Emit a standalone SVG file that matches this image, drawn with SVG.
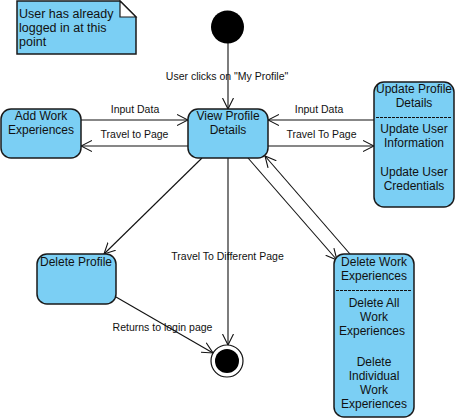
<svg xmlns="http://www.w3.org/2000/svg" width="456" height="419" viewBox="0 0 456 419">
<defs>
<style>
.node{fill:#7bcff4;stroke:#1a1a1a;stroke-width:1.5}
.t{font-family:"Liberation Sans",Arial,sans-serif;font-size:12px;fill:#111;text-anchor:middle}
.lbl{font-family:"Liberation Sans",Arial,sans-serif;font-size:10.5px;fill:#111;text-anchor:middle}
.c{stroke:#111;stroke-width:1.1;fill:none}
.dash{stroke:#111;stroke-width:1;stroke-dasharray:3,1}
</style>
<marker id="arr" viewBox="0 0 12 12" refX="11" refY="6" markerWidth="12" markerHeight="12" markerUnits="userSpaceOnUse" orient="auto">
<path d="M0,0.5 L11,6 L0,11.5" fill="none" stroke="#111" stroke-width="1.1"/>
</marker>
</defs>
<rect width="456" height="419" fill="#fff"/>

<g id="note">
<polygon points="17,1 120,1 136,17 136,54 17,54" class="node"/>
<polygon points="120,1 120,17 136,17" fill="#fff" stroke="#1a1a1a" stroke-width="1.2"/>
<text x="19" y="18" font-family="Liberation Sans, Arial, sans-serif" font-size="12.5" fill="#111">User has already</text>
<text x="19" y="32" font-family="Liberation Sans, Arial, sans-serif" font-size="12.5" fill="#111">logged in at this</text>
<text x="19" y="46" font-family="Liberation Sans, Arial, sans-serif" font-size="12.5" fill="#111">point</text>
</g>

<g id="connectors">
<line x1="228" y1="43" x2="228" y2="109" class="c" marker-end="url(#arr)"/>
<line x1="81" y1="120" x2="188" y2="120" class="c" marker-end="url(#arr)"/>
<line x1="188" y1="146" x2="81" y2="146" class="c" marker-end="url(#arr)"/>
<line x1="374" y1="120" x2="268" y2="120" class="c" marker-end="url(#arr)"/>
<line x1="268" y1="146" x2="374" y2="146" class="c" marker-end="url(#arr)"/>
<line x1="202" y1="158" x2="104" y2="254" class="c" marker-end="url(#arr)"/>
<line x1="228" y1="158" x2="228" y2="345" class="c" marker-end="url(#arr)"/>
<line x1="248" y1="158" x2="337" y2="260" class="c" marker-end="url(#arr)"/>
<line x1="350" y1="254" x2="265" y2="156" class="c" marker-end="url(#arr)"/>
<line x1="116" y1="297" x2="213" y2="353" class="c" marker-end="url(#arr)"/>
<text x="227" y="80" class="lbl">User clicks on "My Profile"</text>
<text x="135" y="113" class="lbl">Input Data</text>
<text x="134.5" y="138" class="lbl">Travel to Page</text>
<text x="319" y="113" class="lbl">Input Data</text>
<text x="321.5" y="138" class="lbl">Travel To Page</text>
<text x="227.5" y="260" class="lbl">Travel To Different Page</text>
<text x="162.5" y="331" class="lbl">Returns to login page</text>
</g>

<g id="start">
<circle cx="227.5" cy="27" r="16.5" fill="#000"/>
</g>

<g id="final">
<circle cx="227" cy="361" r="16" fill="#fff" stroke="#111" stroke-width="1.2"/>
<circle cx="227" cy="361" r="12" fill="#000"/>
</g>

<g id="view-profile">
<rect x="188" y="109" width="80" height="49" rx="10" class="node"/>
<text x="228" y="120" class="t">View Profile</text>
<text x="228" y="134" class="t">Details</text>
</g>

<g id="add-work">
<rect x="1" y="109" width="80" height="49" rx="10" class="node"/>
<text x="41" y="120" class="t">Add Work</text>
<text x="41" y="134" class="t">Experiences</text>
</g>

<g id="update-profile">
<rect x="374" y="82" width="80" height="125" rx="10" class="node"/>
<text x="414" y="93" class="t">Update Profile</text>
<text x="414" y="107" class="t">Details</text>
<line x1="376" y1="117.5" x2="452" y2="117.5" class="dash"/>
<text x="414" y="133" class="t">Update User</text>
<text x="414" y="147" class="t">Information</text>
<text x="414" y="176" class="t">Update User</text>
<text x="414" y="190" class="t">Credentials</text>
</g>

<g id="delete-profile">
<rect x="37" y="254" width="79" height="50" rx="10" class="node"/>
<text x="76" y="266" class="t">Delete Profile</text>
</g>

<g id="delete-work">
<rect x="334" y="254" width="80" height="163" rx="10" class="node"/>
<text x="374" y="266" class="t">Delete Work</text>
<text x="374" y="280" class="t">Experiences</text>
<line x1="336" y1="290.5" x2="412" y2="290.5" class="dash"/>
<text x="374" y="307" class="t">Delete All</text>
<text x="374" y="321" class="t">Work</text>
<text x="372" y="335" class="t">Experiences</text>
<text x="374" y="366" class="t">Delete</text>
<text x="374" y="380" class="t">Individual</text>
<text x="374" y="394" class="t">Work</text>
<text x="374" y="408" class="t">Experiences</text>
</g>
</svg>
